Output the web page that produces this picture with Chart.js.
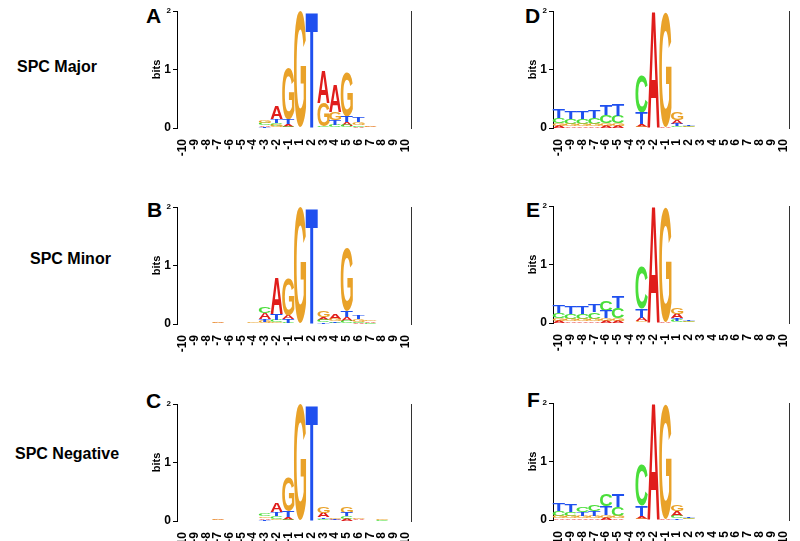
<!DOCTYPE html>
<html>
<head>
<meta charset="utf-8">
<script src="https://cdn.jsdelivr.net/npm/chart.js@4.4.0/dist/chart.umd.min.js"></script>
<style>
  html, body { margin: 0; padding: 0; background: #fff; width: 800px; height: 541px; overflow: hidden; }
  canvas { position: absolute; }
  .tag { position: absolute; font: bold 21px 'Liberation Sans', Arial, sans-serif; line-height: 21px; color: #000; }
  .row { position: absolute; font: bold 16px 'Liberation Sans', Arial, sans-serif; line-height: 16px; color: #000; white-space: nowrap; }
</style>
</head>
<body>
<div class="row" style="left:17px;top:59px">SPC Major</div>
<div class="row" style="left:30px;top:251px">SPC Minor</div>
<div class="row" style="left:15px;top:446px">SPC Negative</div>

<script>
// positions along the splice site
const positions = ['-10','-9','-8','-7','-6','-5','-4','-3','-2','-1','1','2','3','4','5','6','7','8','9','10']
const letters = ['A', 'C', 'G', 'T']
const letterColors = { A: '#e01d1b', C: '#4ade3a', G: '#e9a229', T: '#1f50ef' }

// panel A - SPC major, 5' site (bits per letter)
const majDonA = [.003,.003,.003,.003,.003,.003,.003,.03,.22,.04,.005,.005,.56,.47,.06,.02,.01,.003,.003,.003]
const majDonC = [.003,.003,.003,.003,.003,.003,.003,.04,.05,.02,.005,.005,.02,.05,.04,.03,.005,.003,.003,.003]
const majDonG = [.003,.003,.003,.003,.003,.003,.003,.04,.04,.88,1.98,.005,.4,.13,.77,.05,.01,.003,.003,.003]
const majDonT = [.003,.003,.003,.003,.003,.003,.003,.02,.07,.08,.005,1.98,.01,.09,.1,.08,.005,.003,.003,.003]

// panel B - SPC minor, 5' site
const minDonA = [.003,.003,.003,.01,.003,.003,.005,.1,.62,.07,.005,.005,.05,.08,.07,.02,.03,.005,.003,.003]
const minDonC = [.003,.003,.003,.005,.003,.003,.005,.11,.04,.02,.005,.005,.04,.02,.05,.02,.01,.003,.003,.003]
const minDonG = [.003,.003,.003,.02,.003,.003,.01,.04,.03,.62,1.98,.005,.11,.04,1.08,.04,.03,.005,.003,.003]
const minDonT = [.003,.003,.003,.005,.003,.003,.005,.05,.1,.06,.005,1.98,.03,.03,.1,.07,.005,.003,.003,.003]

// panel C - SPC negative, 5' site
const negDonA = [.003,.003,.003,.01,.003,.005,.003,.03,.15,.05,.005,.005,.08,.02,.04,.02,.005,.003,.003,.003]
const negDonC = [.003,.003,.003,.005,.003,.003,.003,.05,.05,.02,.005,.005,.03,.01,.04,.005,.003,.01,.003,.003]
const negDonG = [.003,.003,.003,.02,.003,.005,.003,.03,.03,.58,1.98,.005,.1,.03,.12,.03,.003,.01,.003,.003]
const negDonT = [.003,.003,.003,.005,.003,.003,.003,.02,.07,.1,.005,1.98,.03,.01,.06,.005,.003,.003,.003,.003]

// panel D - SPC major, 3' site
const majAccA = [.04,.03,.03,.03,.04,.04,.003,.05,1.99,.01,.06,.01,.002,.002,.002,.002,.002,.002,.002,.002]
const majAccC = [.09,.09,.09,.1,.14,.13,.003,.63,.003,.003,.03,.01,.002,.002,.002,.002,.002,.002,.002,.002]
const majAccG = [.04,.04,.04,.04,.04,.04,.003,.02,.003,1.97,.13,.01,.002,.002,.002,.002,.002,.002,.002,.002]
const majAccT = [.15,.13,.12,.13,.17,.19,.003,.2,.003,.003,.04,.01,.002,.002,.002,.002,.002,.002,.002,.002]

// panel E - SPC minor, 3' site
const minAccA = [.04,.03,.03,.03,.04,.04,.003,.06,1.99,.01,.08,.01,.002,.002,.002,.002,.002,.002,.002,.002]
const minAccC = [.09,.09,.09,.11,.17,.17,.003,.72,.003,.003,.04,.01,.002,.002,.002,.002,.002,.002,.002,.002]
const minAccG = [.04,.04,.04,.04,.04,.04,.003,.03,.003,1.97,.12,.01,.002,.002,.002,.002,.002,.002,.002,.002]
const minAccT = [.14,.13,.12,.14,.12,.2,.003,.15,.003,.003,.04,.01,.002,.002,.002,.002,.002,.002,.002,.002]

// panel F - SPC negative, 3' site
const negAccA = [.03,.03,.03,.03,.04,.03,.003,.04,1.99,.01,.09,.01,.002,.002,.002,.002,.002,.002,.002,.002]
const negAccC = [.08,.07,.08,.1,.2,.16,.003,.7,.003,.003,.04,.01,.002,.002,.002,.002,.002,.002,.002,.002]
const negAccG = [.04,.04,.04,.04,.04,.04,.003,.02,.003,1.97,.12,.01,.002,.002,.002,.002,.002,.002,.002,.002]
const negAccT = [.12,.12,.07,.09,.15,.22,.003,.18,.003,.003,.03,.01,.002,.002,.002,.002,.002,.002,.002,.002]

const FONT = "'Liberation Sans', Arial, sans-serif"

// glyph boxes, measured once at 100px
const glyphs = {}
function glyphBox(ctx, ch) {
  if (!glyphs[ch]) {
    ctx.save()
    ctx.font = 'bold 100px ' + FONT
    const m = ctx.measureText(ch)
    glyphs[ch] = { l: m.actualBoundingBoxLeft, r: m.actualBoundingBoxRight, a: m.actualBoundingBoxAscent, d: m.actualBoundingBoxDescent }
    ctx.restore()
  }
  return glyphs[ch]
}

// draws each letter stretched into its bar rectangle
const logoLetters = {
  id: 'logoLetters',
  afterDatasetsDraw(chart) {
    const ctx = chart.ctx
    chart.data.datasets.forEach((ds, i) => {
      chart.getDatasetMeta(i).data.forEach(bar => {
        const top = Math.min(bar.y, bar.base)
        const h = Math.abs(bar.base - bar.y)
        if (h < 0.3) return
        const g = glyphBox(ctx, ds.label)
        const w = bar.width
        ctx.save()
        ctx.translate(bar.x - w / 2, top)
        ctx.scale(w / (g.l + g.r), h / (g.a + g.d))
        ctx.font = 'bold 100px ' + FONT
        ctx.textAlign = 'left'
        ctx.textBaseline = 'alphabetic'
        ctx.fillStyle = ds.letterColor
        ctx.fillText(ds.label, g.l, g.a)
        ctx.restore()
      })
    })
  }
}

// stack letters per position, smallest at the bottom
function buildSets(cols) {
  const sets = letters.map(l => ({
    label: l, data: [], letterColor: letterColors[l],
    backgroundColor: 'rgba(0,0,0,0)', borderWidth: 0,
    grouped: false, barPercentage: 1.04, categoryPercentage: 1
  }))
  for (let i = 0; i < positions.length; i++) {
    const order = cols.map((c, k) => [k, c[i]]).sort((a, b) => a[1] - b[1])
    let cum = 0
    order.forEach(([k, h]) => { sets[k].data.push([cum, cum + h]); cum += h })
  }
  return sets
}

const panels = [
  { tag: 'A', cols: [majDonA, majDonC, majDonG, majDonT], left: 177, top: 11, w: 240, tx: 146, ty: 5 },
  { tag: 'B', cols: [minDonA, minDonC, minDonG, minDonT], left: 177, top: 207, w: 240, tx: 147, ty: 199 },
  { tag: 'C', cols: [negDonA, negDonC, negDonG, negDonT], left: 177, top: 404, w: 240, tx: 146, ty: 390 },
  { tag: 'D', cols: [majAccA, majAccC, majAccG, majAccT], left: 553, top: 11, w: 242, tx: 525, ty: 5 },
  { tag: 'E', cols: [minAccA, minAccC, minAccG, minAccT], left: 553, top: 206, w: 242, tx: 526, ty: 199 },
  { tag: 'F', cols: [negAccA, negAccC, negAccG, negAccT], left: 553, top: 403, w: 242, tx: 527, ty: 389 }
]

const PH = 117  // plot height
panels.forEach(p => {
  const tag = document.createElement('div')
  tag.className = 'tag'
  tag.style.left = p.tx + 'px'
  tag.style.top = p.ty + 'px'
  tag.textContent = p.tag
  document.body.appendChild(tag)

  const cv = document.createElement('canvas')
  const cw = 60 + p.w + 6, ch = 10 + PH + 45
  cv.width = cw; cv.height = ch
  cv.style.left = (p.left - 60) + 'px'
  cv.style.top = (p.top - 10) + 'px'
  cv.style.width = cw + 'px'; cv.style.height = ch + 'px'
  document.body.appendChild(cv)

  new Chart(cv.getContext('2d'), {
    type: 'bar',
    data: { labels: positions, datasets: buildSets(p.cols) },
    plugins: [logoLetters],
    options: {
      responsive: false,
      animation: false,
      layout: { padding: { top: 10, left: 0, right: 5, bottom: 0 } },
      plugins: { legend: { display: false }, tooltip: { enabled: false } },
      scales: {
        x: {
          type: 'category',
          grid: { display: false },
          border: { display: false },
          ticks: {
            autoSkip: false, minRotation: 90, maxRotation: 90, padding: 3,
            color: '#000', font: { family: FONT, size: 12, weight: 'bold' }
          },
          afterFit: s => { s.height = 45 }
        },
        y: {
          min: 0, max: 2,
          grid: { display: true, drawOnChartArea: false, drawTicks: true, tickLength: 4, color: '#000' },
          border: { display: true, color: '#000', width: 1 },
          ticks: {
            stepSize: 1, padding: 2, color: '#000',
            font: c => ({ family: FONT, weight: 'bold', size: (c.tick && c.tick.value === 2) ? 8 : 12 })
          },
          title: { display: true, text: 'bits', color: '#000', font: { family: FONT, size: 11, weight: 'bold' }, padding: { top: 33, bottom: 0 } },
          afterFit: s => { s.width = 60 }
        },
        y2: {
          position: 'right', min: 0, max: 2,
          grid: { display: false },
          ticks: { display: false },
          border: { display: true, color: '#333', width: 1 },
          afterFit: s => { s.width = 1 }
        }
      }
    }
  })
})
</script>
</body>
</html>
